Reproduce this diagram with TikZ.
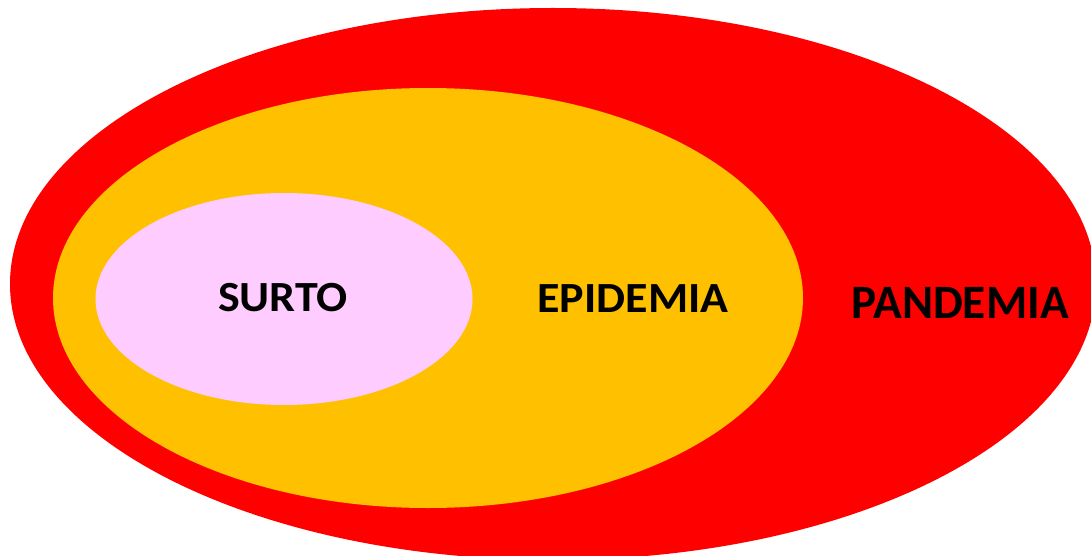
\documentclass[tikz,border=0pt]{standalone}
\usepackage{fontspec}
\newfontfamily\labelfont[FakeStretch=1.07]{Carlito}
\newfontfamily\widelabelfont[FakeStretch=0.985]{Carlito}
\usetikzlibrary{shapes.geometric}
\definecolor{pandred}{HTML}{FF0000}
\definecolor{epiorange}{HTML}{FFC000}
\definecolor{surtopink}{HTML}{FFCCFF}

\begin{document}
\begin{tikzpicture}[x=1pt, y=-1pt,
  zone/.style={ellipse, draw=none, inner sep=0pt},
  lbl/.style={font=\labelfont\bfseries\fontsize{43}{46}\selectfont, text=black, inner sep=0pt},
  biglbl/.style={font=\widelabelfont\bfseries\fontsize{48}{50}\selectfont, text=black, inner sep=0pt}
]
\useasboundingbox (0,0) rectangle (1091,556);
\clip (0,0) rectangle (1091,556);
% nested zones
\node[zone, fill=pandred, minimum width=1086pt, minimum height=552pt] (pandemia) at (553,284) {};
\node[zone, fill=epiorange, minimum width=750pt, minimum height=420pt] (epidemia) at (428,298) {};
\node[zone, fill=surtopink, minimum width=377pt, minimum height=212pt] (surto) at (284,299) {};
% labels
\node[lbl] (surtolbl) at (283,298) {SURTO};
\node[lbl] (epilbl) at (633,298.5) {EPIDEMIA};
\node[biglbl] (pandlbl) at (960,303) {PANDEMIA};
\end{tikzpicture}
\end{document}
